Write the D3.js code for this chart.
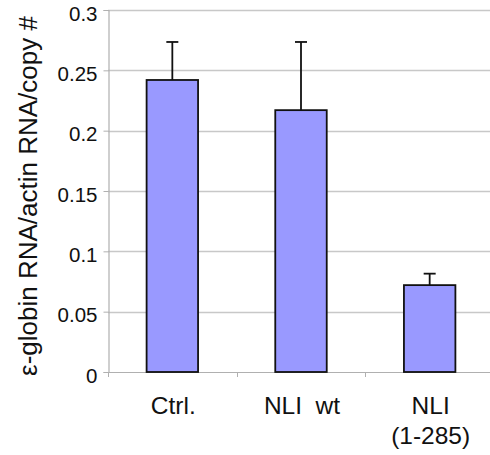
<!DOCTYPE html>
<html><head><meta charset="utf-8">
<script src="https://cdn.jsdelivr.net/npm/d3@7"></script>
<style>
html,body{margin:0;padding:0;background:#fff;}
svg{display:block;font-family:"Liberation Sans",Arial,Helvetica,sans-serif;}
</style></head>
<body>
<svg id="chart" width="490" height="455"></svg>
<script>
const categories = [["Ctrl."], ["NLI\u00a0\u00a0wt"], ["NLI", "(1-285)"]];
const values = [0.242, 0.217, 0.072];
const errors = [0.0315, 0.0565, 0.0095];
const yTicks = [0, 0.05, 0.1, 0.15, 0.2, 0.25, 0.3];
const yTitle = "\u03b5-globin RNA/actin RNA/copy #";

(function(){
const svg = d3.select("#chart");
const mLeft = 108, mRight = 494, mTop = 10, mBottom = 372;

const x = d3.scaleBand().domain(d3.range(categories.length)).range([mLeft, mRight])
  .paddingInner(0.6).paddingOuter(0.3);
const step = x.step();
const y = d3.scaleLinear().domain([0, 0.3]).range([mBottom, mTop]);

// gridlines
svg.append("g").selectAll("line").data(yTicks.filter(d => d > 0)).join("line")
  .attr("x1", mLeft).attr("x2", mRight)
  .attr("y1", d => Math.round(y(d)) + 0.5).attr("y2", d => Math.round(y(d)) + 0.5)
  .attr("stroke", "#c8c8c8").attr("stroke-width", 1.3);

// y axis
const yAxis = d3.axisLeft(y).tickValues(yTicks).tickSize(5).tickPadding(6)
  .tickFormat(d => String(d));
const gy = svg.append("g").attr("transform", `translate(${mLeft + 0.5},0)`).call(yAxis);
gy.select(".domain").attr("stroke", "#b0b0b0").attr("stroke-width", 1.2);
gy.selectAll(".tick line").attr("stroke", "#b0b0b0");
gy.selectAll(".tick text").attr("font-size", 20.5).attr("fill", "#111").attr("dy", "0.5em")
  .attr("font-family", "Liberation Sans, Arial, sans-serif");

// x axis line + ticks at band boundaries
const bounds = d3.range(categories.length + 1).map(i => mLeft + i * step);
svg.append("line").attr("x1", mLeft).attr("x2", mRight)
  .attr("y1", mBottom + 0.5).attr("y2", mBottom + 0.5)
  .attr("stroke", "#b0b0b0").attr("stroke-width", 1.2);
svg.append("g").selectAll("line").data(bounds).join("line")
  .attr("x1", d => Math.round(d) + 0.5).attr("x2", d => Math.round(d) + 0.5)
  .attr("y1", mBottom).attr("y2", mBottom + 5)
  .attr("stroke", "#b0b0b0");

// error bars
const cx = i => x(i) + x.bandwidth() / 2;
const eb = svg.append("g").attr("stroke", "#111").attr("stroke-width", 1.8);
values.forEach((v, i) => {
  eb.append("line").attr("x1", cx(i)).attr("x2", cx(i))
    .attr("y1", y(v)).attr("y2", y(v + errors[i]));
  eb.append("line").attr("x1", cx(i) - 6).attr("x2", cx(i) + 6)
    .attr("y1", y(v + errors[i])).attr("y2", y(v + errors[i]));
});

// bars
svg.append("g").selectAll("rect").data(values).join("rect")
  .attr("x", (d, i) => x(i)).attr("width", x.bandwidth())
  .attr("y", d => y(d)).attr("height", d => y(0) - y(d))
  .attr("fill", "#9999ff").attr("stroke", "#111").attr("stroke-width", 1.8);

// x labels
const xl = svg.append("g").attr("font-size", 24.5).attr("fill", "#111").attr("text-anchor", "middle");
categories.forEach((lines, i) => {
  lines.forEach((t, j) => {
    xl.append("text").attr("x", cx(i) + 1).attr("y", 414 + j * 30).text(t);
  });
});

// y title
svg.append("text").attr("transform", `translate(37,196) rotate(-90)`)
  .attr("text-anchor", "middle").attr("font-size", 26).attr("fill", "#111")
  .text(yTitle);
})();
</script>
</body></html>
